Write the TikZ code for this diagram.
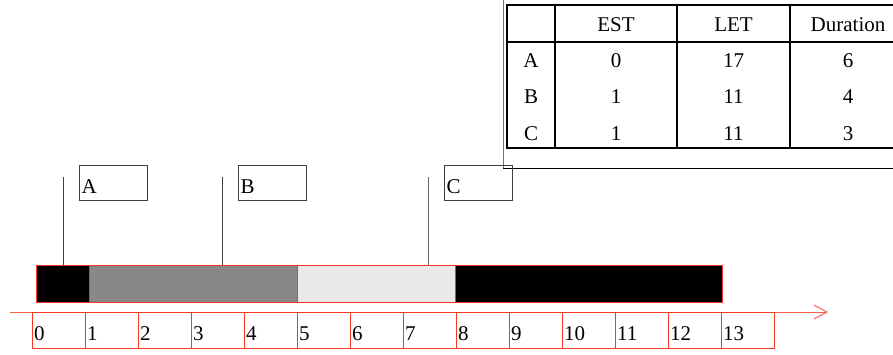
\documentclass[tikz,border=0pt]{standalone}
\usepackage{fontspec}
\setmainfont{Liberation Serif}
\usetikzlibrary{arrows.meta}
\definecolor{tred}{RGB}{245,55,35}
\definecolor{midgray}{RGB}{136,136,136}
\definecolor{lightgray}{RGB}{233,233,233}
\begin{document}
\begin{tikzpicture}[x=1pt,y=-1pt,
  every node/.style={font=\fontsize{21}{25}\selectfont},
  tickbox/.style={draw=tred, line width=1.2pt, anchor=north west, minimum width=53pt, minimum height=36pt,
    inner xsep=1.5pt, inner ysep=0pt, text width=50pt, align=left, text height=20pt, text depth=0pt},
  labbox/.style={draw=black!75, line width=1pt, anchor=north west, minimum width=68pt, minimum height=35pt,
    inner xsep=2pt, inner ysep=0pt, text width=64pt, align=left, text height=20pt, text depth=0pt},
  seg/.style={draw=tred, line width=1.2pt, anchor=north west, minimum height=37pt, inner sep=0pt},
  marker/.style={draw=black!75, line width=0.9pt},
  tcell/.style={anchor=base, inner sep=0pt},
  tline/.style={line width=2pt, black},
]
\useasboundingbox (0,0) rectangle (893,354);
\clip (0,0) rectangle (893,354);

% table frame
\draw[black!55, line width=1pt] (503.5,-2) -- (503.5,168);
\draw[black, line width=1pt] (503,168) -- (900,168);
% table grid
\draw[tline] (507,5) rectangle (906,148);
\draw[tline] (507,42) -- (906,42);
\draw[tline] (555,5) -- (555,148);
\draw[tline] (677,5) -- (677,148);
\draw[tline] (790,5) -- (790,148);
% table texts
\node[tcell] (hEST) at (616,31.5) {EST};
\node[tcell] (hLET) at (733.5,31.5) {LET};
\node[tcell] (hDur) at (848,31.5) {Duration};
\node[tcell] (rA) at (531,67) {A};
\node[tcell] (rAe) at (616,67) {0};
\node[tcell] (rAl) at (733.5,67) {17};
\node[tcell] (rAd) at (848,67) {6};
\node[tcell] (rB) at (531,103.5) {B};
\node[tcell] (rBe) at (616,103.5) {1};
\node[tcell] (rBl) at (733.5,103.5) {11};
\node[tcell] (rBd) at (848,103.5) {4};
\node[tcell] (rC) at (531,140) {C};
\node[tcell] (rCe) at (616,140) {1};
\node[tcell] (rCl) at (733.5,140) {11};
\node[tcell] (rCd) at (848,140) {3};

% label boxes
\node[labbox] (boxA) at (79,165) {A};
\node[labbox] (boxB) at (238,165) {B};
\node[labbox] (boxC) at (444,165) {C};

% bar segments
\node[seg, fill=black, minimum width=53pt] (s1) at (36,265) {};
\node[seg, fill=midgray, minimum width=208pt] (s2) at (89,265) {};
\node[seg, fill=lightgray, minimum width=158pt] (s3) at (297,265) {};
\node[seg, fill=black, minimum width=267pt] (s4) at (455,265) {};

% marker lines
\coordinate (mA) at (63,177);
\coordinate (mB) at (222,177);
\coordinate (mC) at (428,177);
\draw[marker] (mA) -- (mA |- s1.north);
\draw[marker] (mB) -- (mB |- s2.north);
\draw[marker, draw=black!60] (mC) -- (mC |- s3.north);

% axis arrow
\coordinate (ax0) at (10,312);
\coordinate (ax1) at (828,312);
\draw[tred!80, line width=1pt, -{Straight Barb[length=13pt,width=14pt,line width=1pt]}] (ax0) -- (ax1);

% tick boxes
\foreach \i in {0,...,13}{
  \node[tickbox] (t\i) at ({32+53*\i},312) {\i};
}
\end{tikzpicture}
\end{document}
